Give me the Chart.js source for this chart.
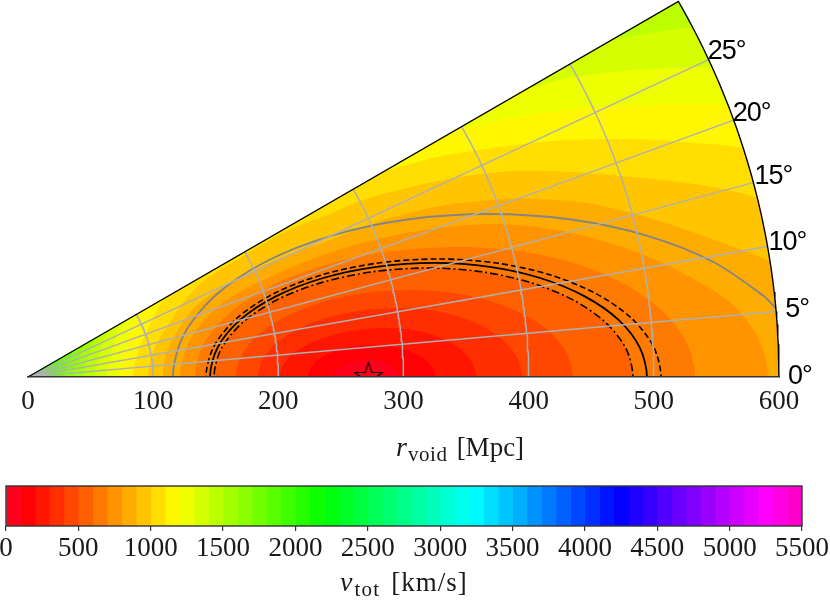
<!DOCTYPE html>
<html><head><meta charset="utf-8">
<style>html,body{margin:0;padding:0;background:#fff}canvas{position:absolute;left:0;display:block}</style>
<script src="https://cdn.jsdelivr.net/npm/chart.js@4"></script>
</head><body>
<canvas id="wedge" width="830" height="470" style="top:0;width:830px;height:470px"></canvas>
<canvas id="bar" width="830" height="131" style="top:470px;width:830px;height:131px"></canvas>
<script>
// Contours of v_tot, as [x, y] in Mpc
const contour100=[[243.7,0],[247.2,6.8],[256.9,11.8],[270,13.6],[283.2,11.8],[292.9,6.8],[296.4,0]];
const contour200=[[223.7,0],[230.7,12.8],[249.9,22.2],[276,25.6],[300.6,22.2],[318.6,12.8],[325.2,0]];
const contour300=[[201.3,0],[204.2,10.1],[212.9,19.6],[226.7,27.6],[244.6,33.9],[265.5,37.8],[288,39.1],[306.1,37.8],[323,33.9],[337.4,27.6],[348.5,19.6],[355.5,10.1],[357.9,0]];
const contour400=[[183.7,0],[187.6,14.3],[198.9,27.6],[216.9,39],[240.3,47.7],[267.7,53.2],[297,55.1],[322.3,53.2],[345.9,47.7],[366.1,39],[381.6,27.6],[391.4,14.3],[394.7,0]];
const contour500=[[166.2,0],[171,18],[185.1,34.8],[207.5,49.1],[236.6,60.2],[270.5,67.1],[307,69.5],[340.3,67.1],[371.2,60.2],[397.8,49.1],[418.2,34.8],[431,18],[435.4,0]];
const contour600=[[148.6,0],[154.4,22.6],[171.6,43.6],[198.8,61.6],[234.3,75.4],[275.6,84.1],[320,87.1],[362.3,84.1],[401.7,75.4],[435.5,61.6],[461.4,43.6],[477.8,22.6],[483.3,0]];
const contour700=[[133.4,0],[140.6,26.9],[161.8,52],[195.4,73.5],[239.2,90],[290.2,100.4],[345,103.9],[393.7,100.4],[439,90],[477.8,73.5],[507.7,52],[526.5,26.9],[532.9,0]];
const contour800=[[121.4,0],[130,30.6],[155.1,58.7],[195.1,80.7],[247.2,101.4],[307.8,116.1],[373,122.2],[429.5,116.1],[482.1,101.4],[527.3,80.7],[562,58.7],[583.8,30.6],[591.2,0]];
const contour900=[[107.9,0],[111,20],[121.4,39.9],[135,57.5],[161.4,75.1],[201.3,95.1],[241.3,109.4],[281.2,124.6],[321.2,135],[353.1,139.8],[393.1,142.6],[446.6,139],[499.3,126.2],[552.8,107.9],[600.8,88.7],[640,60],[640,0]];
const contour1000=[[95.9,0],[99.9,20],[113.4,43.9],[127,63.1],[141.4,77.5],[169.4,95.1],[206.9,116.6],[241.3,130.2],[267.6,141.4],[323.6,155.8],[377.1,163.8],[430.6,163.8],[483.3,159.8],[536.9,153.4],[575.2,145.4],[616.8,129.4],[640,110],[640,0]];
const contour1100=[[83.9,0],[87.9,20],[97.5,41.5],[109.5,63.1],[200,150],[281.2,163.8],[323.6,175],[377.1,183.7],[430.6,189.3],[483.3,190.1],[523.3,187.7],[566.4,183.7],[608.8,173.4],[640,150],[640,0]];
const contour1200=[[73.5,0],[76.7,20],[81.5,37],[87.1,50.3],[200,160],[300,195],[345.1,198.1],[377.1,205.3],[430.6,213.3],[483.3,217.3],[559.2,218.1],[600.8,214.9],[640,210],[640,0]];
const contour1300=[[63.1,0],[67.1,21.6],[75.9,43.9],[150,110],[300,200],[385,235],[403.4,231.7],[430.6,238.9],[483.3,245.3],[547.2,247.7],[600,248],[640,250],[640,0]];
const contour1400=[[53.5,0],[57.5,20],[65.5,37.5],[150,120],[300,220],[440,265],[465,269.2],[496.9,274.8],[523.3,278.8],[552.8,283.6],[640,290],[640,0]];
const contour1500=[[44.7,0],[48,16],[54.6,31.5],[70,70],[120,305],[640,310],[640,0]];
const contour1600=[[36.8,0],[39.5,13],[44.9,25.9],[60,60],[120,305],[640,310],[640,0]];
const contour1700=[[29.6,0],[31.8,11],[36.1,20.8],[50,50],[120,305],[640,310],[640,0]];
const contour1800=[[22.4,0],[24,8],[27.3,15.8],[40,40],[120,305],[640,310],[640,0]];
const contour1900=[[15.2,0],[16.3,6],[18.5,10.7],[30,30],[120,305],[640,310],[640,0]];
const contour2000=[[10.4,0],[11.2,4],[12.7,7.3],[25,25],[120,305],[640,310],[640,0]];
const contour2100=[[6.4,0],[6.9,2.4],[7.8,4.5],[20,20],[120,305],[640,310],[640,0]];
const contourTop=[[0,0],[0,310],[640,310],[640,0]];
// Overlaid lines
const grayLine=[[115.8,0],[124.4,33.7],[149.7,65.1],[189.8,92.1],[242.2,112.8],[303.1,125.8],[368.5,130.2],[433.9,125.8],[494.9,112.8],[547.2,92.1],[587.3,65.1],[597.6,54.7]];
const solidLine=[[145.4,0],[151.5,23.6],[169.5,45.6],[198,64.4],[235.2,78.9],[278.5,88],[325,91.1],[368.9,88],[409.8,78.9],[444.8,64.4],[471.8,45.6],[488.7,23.6],[494.5,0]];
const dashedLine=[[142.2,0],[148.5,24.4],[167.1,47.2],[196.6,66.7],[235.1,81.7],[279.9,91.1],[328,94.3],[374,91.1],[416.9,81.7],[453.6,66.7],[481.9,47.2],[499.7,24.4],[505.7,0]];
const dashDotLine=contour600;
const starPoint=[[272,0]];
// Axes and labels
const radialTicks=[0,100,200,300,400,500,600];
const gridRadii=[100,200,300,400,500];
const gridAngles=[5,10,15,20,25];
const angleLabels=[0,5,10,15,20,25];
const angleLabelDx=[9,9,1,1,-1,-1];
const angleLabelDy=[0,-2,-4,-6,-7,-8];
const barLevels=[0,100,200,300,400,500,600,700,800,900,1000,1100,1200,1300,1400,1500,1600,1700,1800,1900,2000,2100,2200,2300,2400,2500,2600,2700,2800,2900,3000,3100,3200,3300,3400,3500,3600,3700,3800,3900,4000,4100,4200,4300,4400,4500,4600,4700,4800,4900,5000,5100,5200,5300,5400];
const barTicks=[0,500,1000,1500,2000,2500,3000,3500,4000,4500,5000,5500];

const VMAX=5500,THETA_MAX=30,RMAX=600;
const stops=[[0,1,0,.16],[.03,1,0,0],[.215,1,1,0],[.4,0,1,0],[.586,0,1,1],[.77,0,0,1],[.954,1,0,1],[1,1,0,.75]];
function cmap(t){
  for(let i=1;i<stops.length;i++){
    if(t<=stops[i][0]){
      const a=stops[i-1],b=stops[i],f=(t-a[0])/(b[0]-a[0]);
      const c=[1,2,3].map(k=>Math.round(255*(a[k]+(b[k]-a[k])*f)));
      return `rgb(${c[0]},${c[1]},${c[2]})`;
    }
  }
  return 'rgb(255,0,191)';
}
const bandColor=low=>cmap((low+50)/VMAX);
const pts=a=>a.map(p=>({x:p[0],y:p[1]}));
// the contours cross the axis at right angles: continue each end below the axis (outside the plot area)
function mirrored(a){
  const o=a.slice();
  if(a[0][1]===0) o.unshift([a[1][0],-a[1][1]]);
  const n=a.length-1;
  if(a[n][1]===0&&a[n][0]<RMAX) o.push([a[n-1][0],-a[n-1][1]]);
  return pts(o);
}
const polar=(r,deg)=>({x:r*Math.cos(deg*Math.PI/180),y:r*Math.sin(deg*Math.PI/180)});
function range(a,b,n){const o=[];for(let i=0;i<=n;i++)o.push(a+(b-a)*i/n);return o;}
const arc=(r,from,to)=>range(from,to,60).map(t=>polar(r,t));

const TEXT='#1a1a1a',SERIF="'Liberation Serif'",SANS="'Liberation Sans'",TENSION=0.3;
const line=(data,color,width,extra)=>Object.assign({data,borderColor:color,borderWidth:width,showLine:true,pointRadius:0,fill:false,tension:TENSION,capBezierPoints:false},extra||{});
const band=(data,low)=>({data:mirrored(data),showLine:true,pointRadius:0,borderWidth:0,borderColor:'transparent',backgroundColor:bandColor(low),fill:'shape',tension:TENSION,capBezierPoints:false});

function starImage(R){
  const s=Math.ceil(R*2+6),c=document.createElement('canvas');c.width=c.height=s;
  const g=c.getContext('2d');g.beginPath();
  for(let i=0;i<10;i++){
    const rr=i%2?R*0.382:R,a=-Math.PI/2+i*Math.PI/5,x=s/2+rr*Math.cos(a),y=s/2+rr*Math.sin(a);
    i?g.lineTo(x,y):g.moveTo(x,y);
  }
  g.closePath();g.strokeStyle='#000';g.lineWidth=1.1;g.stroke();return c;
}

const maskPoly=[{x:0,y:0},polar(RMAX,THETA_MAX),...arc(RMAX,THETA_MAX,0),{x:660,y:0},{x:660,y:320},{x:-5,y:320},{x:-5,y:0}];
const gridSets=[...gridRadii.map(r=>arc(r,0,THETA_MAX)),...gridAngles.map(t=>[polar(0,t),polar(RMAX,t)])]
  .map(d=>line(d,'#b0b0b0',1.5,{tension:0}));

const wedgeDatasets=[
  {data:pts(starPoint),showLine:false,pointStyle:starImage(14.7),pointRadius:16,fill:false},
  line([polar(0,0),polar(RMAX,THETA_MAX),...arc(RMAX,THETA_MAX,0)],'#000',1.4,{tension:0,clip:false}),
  ...gridSets,
  line(mirrored(grayLine),'#858585',1.9),
  line(mirrored(solidLine),'#000',1.8),
  line(mirrored(dashedLine),'#000',1.6,{borderDash:[6,3]}),
  line(mirrored(dashDotLine),'#000',1.6,{borderDash:[8,3,2,3]}),
  {data:maskPoly,showLine:true,pointRadius:0,borderWidth:0,borderColor:'transparent',backgroundColor:'#fff',fill:'shape',tension:0},
  band(contour100,0),band(contour200,100),band(contour300,200),band(contour400,300),band(contour500,400),
  band(contour600,500),band(contour700,600),band(contour800,700),band(contour900,800),band(contour1000,900),
  band(contour1100,1000),band(contour1200,1100),band(contour1300,1200),band(contour1400,1300),band(contour1500,1400),
  band(contour1600,1500),band(contour1700,1600),band(contour1800,1700),band(contour1900,1800),band(contour2000,1900),
  band(contour2100,2000),band(contourTop,2100)
];

function textRun(ctx,parts,x,base){
  ctx.textAlign='left';ctx.textBaseline='alphabetic';
  for(const p of parts){
    ctx.font=p.font;ctx.letterSpacing=p.spacing||'0px';
    ctx.fillText(p.text,x,base+(p.drop||0));
    x+=ctx.measureText(p.text).width+(p.gap||0);
  }
  ctx.letterSpacing='0px';
}

const wedgeText={id:'wedgeText',afterDraw(chart){
  const {ctx,scales:{x,y}}=chart;ctx.save();ctx.fillStyle='#000';
  ctx.font=`27px ${SANS}`;ctx.textAlign='left';ctx.textBaseline='middle';ctx.letterSpacing='-1px';
  angleLabels.forEach((t,i)=>{
    const p=polar(RMAX,t);
    ctx.fillText(t+'°',x.getPixelForValue(p.x)+angleLabelDx[i],y.getPixelForValue(p.y)+angleLabelDy[i]);
  });
  ctx.letterSpacing='0px';
  ctx.fillStyle=TEXT;
  textRun(ctx,[
    {text:'r',font:`italic 28px ${SERIF}`,gap:1},
    {text:'void',font:`21px ${SERIF}`,drop:5,gap:9,spacing:'0.6px'},
    {text:'[Mpc]',font:`27px ${SERIF}`}
  ],396,456);
  ctx.restore();
}};

new Chart(document.getElementById('wedge'),{
  type:'scatter',
  data:{datasets:wedgeDatasets},
  plugins:[wedgeText],
  options:{
    responsive:false,animation:false,events:[],
    layout:{autoPadding:false,padding:{left:28,right:51,top:0,bottom:0}},
    elements:{line:{capBezierPoints:false}},
    plugins:{legend:{display:false},tooltip:{enabled:false}},
    scales:{
      x:{type:'linear',min:0,max:RMAX,
        afterFit(s){s.height=93;},
        afterBuildTicks(s){s.ticks=radialTicks.map(v=>({value:v}));},
        grid:{display:false,drawTicks:false},
        border:{display:true,color:'#333',width:1.6,z:1},
        ticks:{color:TEXT,font:{family:SERIF,size:27},padding:9,maxRotation:0,autoSkip:false,callback:v=>String(v)}},
      y:{type:'linear',min:0,max:377/(751/RMAX),display:false}
    }
  }
});

const frame={id:'frame',afterDraw(chart){
  const {ctx,chartArea:a}=chart;ctx.save();ctx.strokeStyle='#333';ctx.lineWidth=1.4;
  ctx.strokeRect(a.left,a.top,a.right-a.left,a.bottom-a.top);
  ctx.fillStyle=TEXT;
  textRun(ctx,[
    {text:'v',font:`italic 28px ${SERIF}`,gap:2},
    {text:'tot',font:`21px ${SERIF}`,drop:5,gap:11,spacing:'1.2px'},
    {text:'[km/s]',font:`27px ${SERIF}`,spacing:'1px'}
  ],340,121);
  ctx.restore();
}};

new Chart(document.getElementById('bar'),{
  type:'bar',
  data:{labels:['v'],datasets:barLevels.map(v=>({data:[100],backgroundColor:bandColor(v),borderWidth:0,borderSkipped:false,barPercentage:1,categoryPercentage:1}))},
  plugins:[frame],
  options:{
    indexAxis:'y',responsive:false,animation:false,events:[],
    layout:{autoPadding:false,padding:{left:6,right:28,top:16,bottom:0}},
    plugins:{legend:{display:false},tooltip:{enabled:false}},
    scales:{
      x:{type:'linear',min:0,max:VMAX,stacked:true,
        afterFit(s){s.height=75;s.paddingLeft=0;s.paddingRight=0;},
        afterBuildTicks(s){s.ticks=barTicks.map(v=>({value:v}));},
        grid:{drawOnChartArea:false,drawTicks:true,tickLength:5,color:'#333',lineWidth:1.2},
        border:{display:false},
        ticks:{color:TEXT,font:{family:SERIF,size:27},padding:2,maxRotation:0,autoSkip:false,callback:v=>String(v)}},
      y:{stacked:true,display:false}
    }
  }
});
</script>
</body></html>
